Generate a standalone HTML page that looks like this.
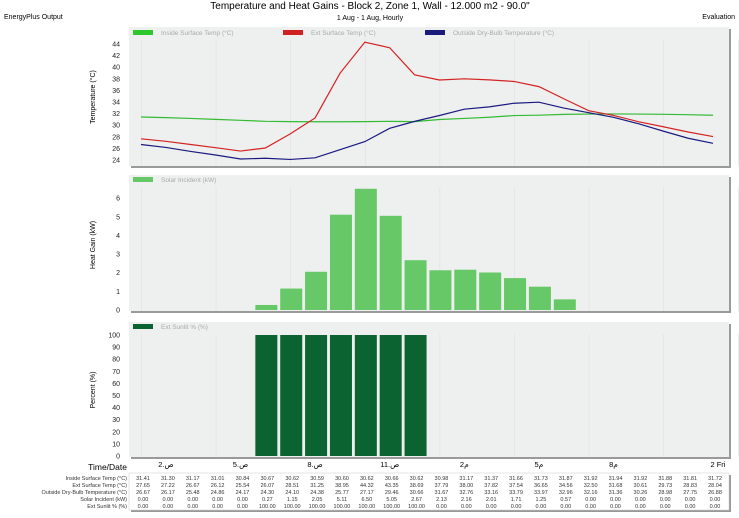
<!DOCTYPE html>
<html><head><meta charset="utf-8"><style>
body{margin:0;width:739px;height:513px;background:#fff;font-family:"Liberation Sans","Noto Sans CJK SC",sans-serif;overflow:hidden}
svg text{font-family:"Liberation Sans","Noto Sans CJK SC",sans-serif}
</style></head><body>
<svg id="c" width="739" height="513" xmlns="http://www.w3.org/2000/svg">
<text x="370" y="9" font-size="10" text-anchor="middle">Temperature and Heat Gains - Block 2, Zone 1, Wall - 12.000 m2 - 90.0"</text>
<text x="370" y="20" font-size="7" text-anchor="middle">1 Aug - 1 Aug, Hourly</text>
<text x="4" y="19" font-size="7">EnergyPlus Output</text>
<text x="735" y="19" font-size="7" text-anchor="end">Evaluation</text>
<g id="g"></g>
</svg>
<script>
const hours=[1,2,3,4,5,6,7,8,9,10,11,12,13,14,15,16,17,18,19,20,21,22,23,24];
const inside=[31.41,31.30,31.17,31.01,30.84,30.67,30.62,30.59,30.60,30.62,30.66,30.62,30.98,31.17,31.37,31.66,31.73,31.87,31.92,31.94,31.92,31.88,31.81,31.72];
const extSurf=[27.65,27.22,26.67,26.12,25.54,26.07,28.51,31.25,38.95,44.32,43.35,38.69,37.79,38.00,37.82,37.54,36.65,34.56,32.50,31.68,30.61,29.73,28.83,28.04];
const outside=[26.67,26.17,25.48,24.86,24.17,24.30,24.10,24.38,25.77,27.17,29.46,30.66,31.67,32.76,33.16,33.79,33.97,32.96,32.16,31.36,30.26,28.98,27.75,26.88];
const solar=[0,0,0,0,0,0.27,1.15,2.05,5.11,6.50,5.05,2.67,2.13,2.16,2.01,1.71,1.25,0.57,0,0,0,0,0,0];
const sunlit=[0,0,0,0,0,100,100,100,100,100,100,100,0,0,0,0,0,0,0,0,0,0,0,0];
const tempTicks=[24,26,28,30,32,34,36,38,40,42,44];
const solarTicks=[0,1,2,3,4,5,6];
const pctTicks=[0,10,20,30,40,50,60,70,80,90,100];
const timeLabels=["2.ص","5.ص","8.ص","11.ص","2م","5م","8م","2 Fri"];
const timeLabelHours=[2,5,8,11,14,17,20,24.2];
const NS="http://www.w3.org/2000/svg",G=document.getElementById('g');
function mk(t,a,p){const e=document.createElementNS(NS,t);for(const k in a)e.setAttribute(k,a[k]);(p||G).appendChild(e);return e;}
const X=h=>141+(h-1)*24.87;
const yT=v=>160-(v-24)*5.8, yS=v=>310-v*18.65, yP=v=>456-v*1.21;
function panel(y0,y1,name){
 const r=mk('rect',{x:131,y:y0+2,width:600,height:y1-y0,fill:'#9a9a9a'});
 
 const p=mk('rect',{x:129,y:y0,width:600,height:y1-y0,fill:'#eeefef'});
 
 [0,3,6,9,12,15,18,21,24].forEach(i=>{const l=mk('line',{x1:X(i+1.5)-12,x2:X(i+1.5)-12,y1:y0+12,y2:y1,stroke:'#e0e0e0','stroke-width':0.6});});
}
function ylab(txt,y,x){const t=mk('text',{x:x,y:y+2.5,'font-size':7,'text-anchor':'end',fill:'#222'});t.textContent=txt;}
function ytitle(txt,cy){const t=mk('text',{x:0,y:0,'font-size':7,'text-anchor':'middle',transform:`translate(95,${cy}) rotate(-90)`});t.textContent=txt;}
function legend(x,y,c,txt){const r=mk('rect',{x:x,y:y-4,width:20,height:5,fill:c});const t=mk('text',{x:x+28,y:y+1,'font-size':6.5,fill:'#aaa'});t.textContent=txt;}
panel(27,166,'temperature');
legend(133,34,'#2ec72e','Inside Surface Temp (°C)');legend(283,34,'#d02020','Ext Surface Temp (°C)');legend(425,34,'#1a1a7a','Outside Dry-Bulb Temperature (°C)');
tempTicks.forEach(v=>ylab(v,yT(v),120));
ytitle('Temperature (°C)',97);
[[inside,'#33bb33','inside-surface-temp-line'],[extSurf,'#d42222','ext-surface-temp-line'],[outside,'#1a1a80','outside-drybulb-line']].forEach(([d,c,n])=>{
 const l=mk('polyline',{points:d.map((v,i)=>X(hours[i])+','+yT(v)).join(' '),fill:'none',stroke:c,'stroke-width':1.2});
 });
panel(175,311,'solar');
legend(133,181,'#66c866','Solar Incident (kW)');
solarTicks.forEach(v=>ylab(v,yS(v),120));
ytitle('Heat Gain (kW)',245);
solar.forEach((v,i)=>{if(v<=0)return;const b=mk('rect',{x:X(hours[i])-10,y:yS(v),width:22,height:yS(0)-yS(v),fill:'#66c866'});});
panel(322,457,'sunlit');
legend(133,328,'#0b6332','Ext Sunlit % (%)');
pctTicks.forEach(v=>ylab(v,yP(v),120));
ytitle('Percent (%)',390);
sunlit.forEach((v,i)=>{if(v<=0)return;const b=mk('rect',{x:X(hours[i])-10,y:yP(v),width:22,height:yP(0)-yP(v),fill:'#0b6332'});});
const tt=mk('text',{x:127,y:470,'font-size':8.5,'text-anchor':'end'});tt.textContent='Time/Date';
timeLabels.forEach((s,i)=>{const t=mk('text',{x:X(timeLabelHours[i]),y:467,'font-size':7.5,'text-anchor':'middle'});t.textContent=s;});
const tr=mk('rect',{x:131,y:475,width:600,height:37,fill:'#999'});
const tb=mk('rect',{x:129,y:473,width:600,height:37,fill:'#fff',stroke:'#ccc','stroke-width':0.5});
const rowNames=['Inside Surface Temp (°C)','Ext Surface Temp (°C)','Outside Dry-Bulb Temperature (°C)','Solar Incident (kW)','Ext Sunlit % (%)'];
[inside,extSurf,outside,solar,sunlit].forEach((d,r)=>{const y=480+r*7;
 const t=mk('text',{x:127,y:y,'font-size':5.5,'text-anchor':'end',fill:'#333'});t.textContent=rowNames[r];
 d.forEach((v,i)=>{const c=mk('text',{x:X(hours[i])+2,y:y,'font-size':5.5,'text-anchor':'middle',fill:'#333'});c.textContent=v.toFixed(2);});});
</script>
</body></html>
